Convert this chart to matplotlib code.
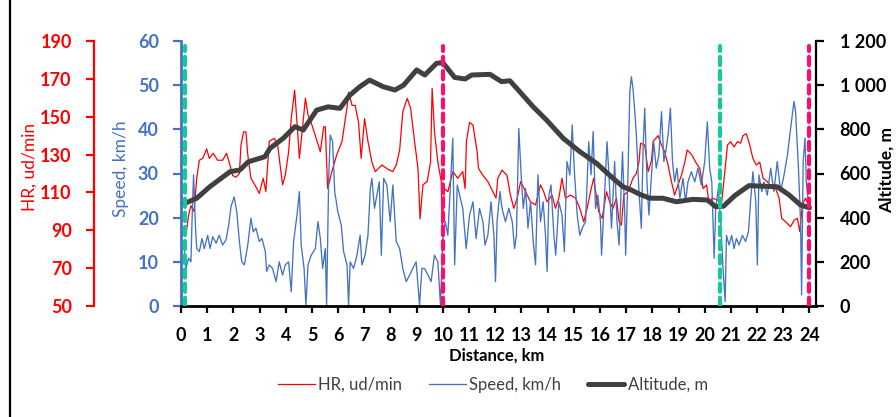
import matplotlib
matplotlib.use("Agg")
import matplotlib.pyplot as plt
from matplotlib.lines import Line2D

plt.rcParams['font.family'] = ['Lato', 'DejaVu Sans']

# ---------------- data ----------------
alt_km = [0.15, 0.6, 1.1, 1.87, 2.25, 2.57, 3.2, 3.4, 3.9, 4.35, 4.67, 5.18, 5.62, 6.07,
          6.45, 6.83, 7.2, 7.72, 8.17, 8.5, 9.0, 9.31, 9.76, 10.0, 10.45, 10.85, 11.1,
          11.8, 12.24, 12.56, 12.94, 13.45, 13.96, 14.6, 15.23, 15.87, 16.5, 16.88, 17.2,
          17.52, 17.9, 18.4, 18.92, 19.55, 20.1, 20.42, 20.72, 21.15, 21.69, 22.77,
          23.22, 23.66, 24.0]
alt_m = [465, 488, 540, 608, 616, 653, 676, 714, 759, 812, 797, 887, 902, 895, 955, 993,
         1023, 993, 978, 1000, 1069, 1046, 1099, 1102, 1035, 1028, 1046, 1049, 1016, 1020,
         970, 902, 842, 759, 699, 646, 578, 540, 525, 506, 488, 488, 472, 483, 480, 450,
         452, 500, 545, 540, 503, 457, 445]

hr_km = [0.19, 0.29, 0.38, 0.5, 0.6, 0.7, 0.83, 0.98, 1.08, 1.23, 1.4, 1.59, 1.74, 1.84,
         1.97, 2.1, 2.23, 2.29, 2.39, 2.48, 2.55, 2.67, 2.86, 2.99, 3.14, 3.24, 3.37, 3.56,
         3.69, 3.88, 3.98, 4.11, 4.21, 4.34, 4.43, 4.52, 4.64, 4.75, 4.85, 5.0, 5.13, 5.32,
         5.45, 5.51, 5.6, 5.76, 5.95, 6.15, 6.34, 6.4, 6.53, 6.65, 6.78, 6.88, 7.01, 7.14,
         7.29, 7.42, 7.67, 7.93, 8.09, 8.22, 8.35, 8.47, 8.64, 8.77, 8.92, 9.05, 9.13, 9.24,
         9.4, 9.53, 9.59, 9.68, 9.81, 9.94, 9.97, 10.06, 10.19, 10.38, 10.57, 10.76, 10.85,
         10.9, 11.02, 11.15, 11.31, 11.36, 11.53, 11.72, 11.91, 12.03, 12.1, 12.26, 12.45,
         12.58, 12.71, 12.84, 12.97, 13.16, 13.35, 13.54, 13.73, 13.85, 13.98, 14.17, 14.3,
         14.43, 14.55, 14.68, 14.87, 15.07, 15.23, 15.38, 15.51, 15.64, 15.76, 15.95, 16.08,
         16.25, 16.37, 16.5, 16.63, 16.73, 16.82, 16.91, 17.07, 17.26, 17.39, 17.49, 17.55,
         17.71, 17.84, 17.97, 18.03, 18.22, 18.35, 18.47, 18.6, 18.73, 18.85, 18.98, 19.11,
         19.24, 19.33, 19.5, 19.68, 19.81, 19.94, 20.07, 20.16, 20.29, 20.48, 20.65, 20.74,
         20.87, 20.99, 21.12, 21.25, 21.37, 21.46, 21.59, 21.72, 21.84, 21.97, 22.1, 22.23,
         22.39, 22.58, 22.71, 22.84, 22.94, 23.09, 23.28, 23.42, 23.54, 23.63, 23.73, 23.85,
         23.96]
hr_bpm = [87.5, 98, 103, 100, 117.5, 127, 128, 133, 128, 130.7, 127, 127, 130.7, 126,
          119, 118, 120, 135, 142, 142, 130, 117.5, 113, 109.5, 117.5, 110.4, 137, 138.6,
          135, 114, 119, 131.5, 149, 164, 147, 128, 144, 159.7, 151, 145.6, 140, 131.5,
          144.7, 144.7, 112, 121, 130, 137, 155, 163, 156, 156, 147, 128, 149, 137,
          126, 121, 124.5, 122, 121, 124.5, 132.4, 152.6, 159.7, 154.4, 137, 122.7, 96, 114,
          115.7, 126, 165, 142, 126, 115.7, 91, 112, 110.4, 121, 117.5, 121, 112,
          137, 147, 145.6, 131.5, 122.7, 119, 115.7, 110.4, 107, 117.5, 121.8, 119,
          108.6, 101.6, 107, 115.7, 110.4, 105, 103.4, 114, 110.4, 105, 108.6, 101.6,
          107, 117.5, 107, 108.6, 107, 101.6, 94.5, 101.6, 110.4, 117.5, 99.8, 96.3,
          110.4, 105, 101.6, 107, 94.5, 92.8, 108.6, 110.4, 117.5, 120, 126, 136,
          135, 121, 127, 137, 140, 135, 131.5, 124.5, 115.7, 108.6, 114, 119,
          126, 132.4, 130, 125.4, 122.7, 112, 114, 105, 107, 106, 105, 117.5,
          135, 136.8, 134, 136.8, 136, 140, 141, 135, 128, 124.5, 126, 117.5,
          115.7, 112, 112, 107, 96.3, 94.5, 91.9, 95.4, 96.3, 89.3, 103.4, 107,
          103.4]

spd_km = [0.13, 0.19, 0.29, 0.38, 0.42, 0.48, 0.55, 0.6, 0.7, 0.8, 0.89, 1.02, 1.11, 1.21,
          1.34, 1.46, 1.59, 1.72, 1.82, 1.91, 2.03, 2.13, 2.23, 2.32, 2.42, 2.55, 2.67, 2.76,
          2.86, 2.99, 3.09, 3.22, 3.27, 3.37, 3.5, 3.63, 3.75, 3.88, 3.98, 4.11, 4.21, 4.3,
          4.43, 4.52, 4.59, 4.7, 4.77, 4.85, 4.97, 5.13, 5.23, 5.32, 5.41, 5.51, 5.56, 5.64,
          5.7, 5.79, 5.87, 5.99, 6.12, 6.21, 6.34, 6.4, 6.46, 6.59, 6.72, 6.84, 6.91, 7.03,
          7.14, 7.23, 7.29, 7.39, 7.48, 7.57, 7.65, 7.74, 7.86, 7.99, 8.09, 8.16, 8.22, 8.35,
          8.47, 8.6, 8.73, 8.85, 8.98, 9.11, 9.2, 9.3, 9.43, 9.55, 9.68, 9.81, 9.91, 10.0,
          10.09, 10.19, 10.29, 10.38, 10.45, 10.55, 10.64, 10.76, 10.89, 11.02, 11.15, 11.27,
          11.4, 11.53, 11.61, 11.72, 11.84, 11.95, 12.01, 12.07, 12.18, 12.26, 12.39, 12.52,
          12.65, 12.74, 12.81, 12.9, 12.99, 13.07, 13.16, 13.25, 13.35, 13.45, 13.54, 13.63,
          13.73, 13.83, 13.92, 13.98, 14.05, 14.13, 14.24, 14.31, 14.43, 14.55, 14.64, 14.74,
          14.85, 14.94, 15.03, 15.13, 15.23, 15.32, 15.45, 15.57, 15.66, 15.74, 15.83, 15.92,
          16.02, 16.06, 16.15, 16.27, 16.35, 16.44, 16.56, 16.65, 16.73, 16.86, 16.95, 16.98,
          17.07, 17.14, 17.2, 17.26, 17.33, 17.39, 17.49, 17.58, 17.65, 17.71, 17.8, 17.87,
          17.97, 18.05, 18.15, 18.25, 18.35, 18.44, 18.51, 18.6, 18.69, 18.77, 18.85, 18.94,
          19.05, 19.17, 19.27, 19.36, 19.49, 19.62, 19.74, 19.87, 20.0, 20.1, 20.19, 20.27,
          20.36, 20.42, 20.52, 20.61, 20.7, 20.78, 20.83, 20.93, 21.03, 21.12, 21.21, 21.31,
          21.44, 21.56, 21.67, 21.76, 21.84, 21.95, 22.01, 22.07, 22.18, 22.26, 22.39, 22.52,
          22.64, 22.77, 22.9, 23.03, 23.16, 23.28, 23.41, 23.47, 23.58, 23.66, 23.7, 23.76,
          23.83, 23.88, 23.96]
spd_kmh = [12.3, 8.5, 10.8, 10, 19.1, 29.7, 18.3, 13, 12.3, 15.3, 13, 16, 13, 15.7,
           14.2, 16, 13.8, 15, 18.3, 22.5, 24.7, 21.3, 14.6, 10, 9.3, 13.8, 19.9, 16.8,
           17.6, 14.6, 15.3, 12.3, 7.8, 9.3, 8.5, 5.5, 10, 7, 9.3, 10, 3.2, 14.6,
           20.6, 25.9, 13.8, 8.5, 0.2, 9.3, 11.5, 13, 19.1, 15.3, 8.5, 13, 0.2, 28.9,
           38.7, 37.2, 25.9, 21.3, 18.3, 12.3, 9.3, 0.2, 10, 8.5, 11.5, 16, 9.3, 11.5,
           16, 26.6, 28.9, 22.1, 25.1, 28.1, 11.5, 28.9, 27.4, 19.1, 27.4, 20.6, 14.6, 13,
           8.5, 5.5, 7, 8.5, 10, 0.2, 8.5, 8.5, 7, 5.5, 11.5, 10, 0.2, 15.3,
           19.1, 16, 27.4, 38, 9.3, 27.4, 25.1, 22.1, 13, 20.6, 23.6, 15.3,
           22.1, 19.1, 13.8, 16, 23.6, 16, 5.5, 19.1, 25.9, 22.1, 19.1, 22.1,
           19.1, 13, 16, 40.2, 29.7, 22.1, 26.6, 17.6, 23.6, 14.6, 9.3, 29.7,
           19.1, 23.6, 16, 7.8, 25.1, 27.4, 16, 11.5, 23.6, 20.6, 12.3, 32.7,
           29.7, 41, 29.7, 20.6, 16, 17.6, 19.1, 37.2, 29.7, 39.5, 22.1, 25.1,
           19.1, 11.5, 22.1, 37.2, 28.9, 17.6, 32.7, 19.1, 13.8, 34.9, 19.9, 11.5,
           29.7, 48.5, 51.9, 49.3, 44, 38.7, 25.9, 17.6, 36.4, 44.8, 27.4, 20.6,
           29.7, 37.2, 31.2, 34.2, 44, 32.7, 34.9, 38.7, 44.8, 32.7, 28.1, 31.2,
           24.4, 28.9, 23.6, 28.1, 30.4, 28.1, 31.2, 27.4, 32.7, 41.7, 31.2, 28.1,
           10.8, 22.1, 26.6, 19.1, 8.5, 1.0, 16, 13.8, 16, 13, 15.3, 13.8,
           16, 14.6, 16.8, 24.4, 30.4, 23.6, 9.3, 29.7, 25.9, 28.1, 25.1, 31.2,
           25.9, 32.7, 25.9, 29.7, 34.2, 40.2, 46.3, 44, 31.2, 19.1, 2.5, 32.7,
           38, 28.1, 22.9]

green_marks_km = [0.15, 20.6]
pink_marks_km = [10.0, 24.0]

x_ticks = list(range(0, 25))
hr_ticks = [50, 70, 90, 110, 130, 150, 170, 190]
spd_ticks = [0, 10, 20, 30, 40, 50, 60]
alt_ticks = [0, 200, 400, 600, 800, 1000, 1200]
alt_tick_labels = ['0', '200', '400', '600', '800', '1 000', '1 200']

# ---------------- style ----------------
RED = '#FF0000'
BLUE = '#4472C4'
DARK = '#404040'
GREEN = '#12C997'
PINK = '#FF0D6E'

W, H = 896, 417
fig = plt.figure(figsize=(W / 100, H / 100), dpi=100)
L, R, T, B = 181, 816, 41, 306
ax = fig.add_axes([L / W, 1 - B / H, (R - L) / W, (B - T) / H])
ax_hr = ax.twinx()
ax_alt = ax.twinx()

ax_hr.set_zorder(1)
ax.set_zorder(2)
ax_alt.set_zorder(3)
ax.patch.set_visible(False)
ax_alt.patch.set_visible(False)

# data lines
l_hr, = ax_hr.plot(hr_km, hr_bpm, color=RED, lw=0.9)
l_spd, = ax.plot(spd_km, spd_kmh, color=BLUE, lw=0.95)
l_alt, = ax_alt.plot(alt_km, alt_m, color=DARK, lw=3.6, solid_capstyle='round',
                     solid_joinstyle='round')

for xk in green_marks_km:
    ax_alt.axvline(xk, ymin=0, ymax=0.98, color=GREEN, lw=3.0,
                   linestyle=(0, (2.0, 1.4)), dash_capstyle='round', zorder=10)
for xk in pink_marks_km:
    ax_alt.axvline(xk, ymin=0, ymax=0.98, color=PINK, lw=3.0,
                   linestyle=(0, (2.0, 1.4)), dash_capstyle='round', zorder=10)

# limits
ax.set_xlim(0, 24.25)
ax.set_ylim(0, 60)
ax_hr.set_ylim(50, 190)
ax_alt.set_ylim(0, 1200)

# spines
for a in (ax, ax_hr, ax_alt):
    a.spines['top'].set_visible(False)
ax.spines['right'].set_visible(False)
ax.spines['left'].set_color(BLUE)
ax.spines['left'].set_linewidth(2.0)
ax.spines['bottom'].set_color('black')
ax.spines['bottom'].set_linewidth(2.0)

ax_hr.spines['right'].set_visible(False)
ax_hr.spines['bottom'].set_visible(False)
ax_hr.spines['left'].set_visible(True)
ax_hr.spines['left'].set_position(('axes', (94 - L) / (R - L)))
ax_hr.spines['left'].set_color(RED)
ax_hr.spines['left'].set_linewidth(1.6)
ax_hr.yaxis.set_ticks_position('left')
ax_hr.yaxis.set_label_position('left')

ax_alt.spines['left'].set_visible(False)
ax_alt.spines['bottom'].set_visible(False)
ax_alt.spines['right'].set_color('black')
ax_alt.spines['right'].set_linewidth(1.6)

# ticks
ax.set_xticks(x_ticks)
ax.set_xticklabels([str(t) for t in x_ticks])
ax.set_yticks(spd_ticks)
ax_hr.set_yticks(hr_ticks)
ax_alt.set_yticks(alt_ticks)
ax_alt.set_yticklabels(alt_tick_labels)

ax.tick_params(axis='x', direction='out', length=5, width=1.6, color='black',
               pad=10, labelsize=13, labelcolor='black')
ax.tick_params(axis='y', direction='out', length=6, width=1.6, color=BLUE,
               pad=10, labelsize=13, labelcolor=BLUE)
ax_hr.tick_params(axis='y', direction='out', length=6, width=1.6, color=RED,
                  pad=10, labelsize=13, labelcolor=RED)
ax_alt.tick_params(axis='y', direction='out', length=6, width=1.6, color='black',
                   pad=11, labelsize=13, labelcolor='black')
for a in (ax, ax_hr, ax_alt):
    for lab in a.get_xticklabels() + a.get_yticklabels():
        lab.set_fontweight('bold')

# axis labels
ax.set_xlabel('Distance, km', fontsize=12, fontweight='bold', color='black')
ax.xaxis.set_label_coords((497 - L) / (R - L), (B - 356) / (B - T))
ax.xaxis.label.set_va('center')

ax_hr.set_ylabel('HR, ud/min', fontsize=12.5, color=RED)
ax_hr.yaxis.set_label_coords((30 - L) / (R - L), (B - 167) / (B - T))
ax_hr.yaxis.label.set_va('center')

ax.set_ylabel('Speed, km/h', fontsize=12.5, color=BLUE)
ax.yaxis.set_label_coords((121 - L) / (R - L), (B - 169) / (B - T))
ax.yaxis.label.set_va('center')

ax_alt.set_ylabel('Altitude, m', fontsize=12.5, fontweight='bold', color='black',
                  rotation=90)
ax_alt.yaxis.set_label_coords((887 - L) / (R - L), (B - 170) / (B - T))
ax_alt.yaxis.label.set_va('center')

# legend
fig.legend([l_hr, l_spd, l_alt], ['HR, ud/min', 'Speed, km/h', 'Altitude, m'],
           loc='center', bbox_to_anchor=(493 / W, 1 - 385 / H), ncol=3,
           frameon=False, fontsize=12, handlelength=2.2, handletextpad=0.2,
           columnspacing=1.6, labelcolor='#404040')

# chart frame (left edge)
fig.add_artist(Line2D([10 / W, 10 / W], [0.0, 1.0], transform=fig.transFigure,
                      color='black', lw=1.6))

fig.savefig('out.png', dpi=100)
